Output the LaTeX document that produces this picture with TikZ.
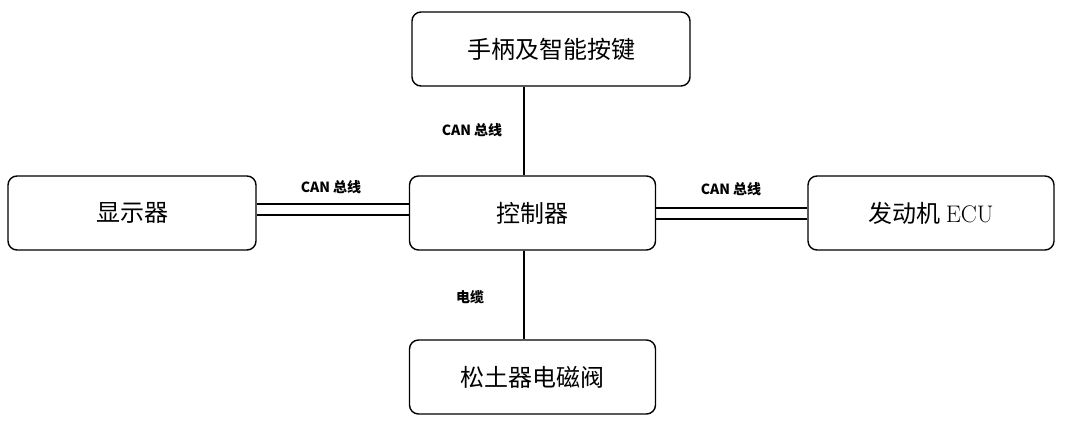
\documentclass[tikz,border=0pt]{standalone}
\usepackage{fontspec}
\newfontfamily\cjk{Noto Sans CJK SC}
\usetikzlibrary{positioning}
\tikzset{
  blk/.style={draw, line width=1.4pt, rounded corners=9pt, minimum width=246pt, minimum height=74pt, font=\fontsize{24}{28}\selectfont\cjk},
  lbl/.style={font=\fontsize{14}{16}\selectfont\cjk\bfseries},
  wire/.style={line width=1.4pt}
}
\begin{document}
\begin{tikzpicture}[x=1pt,y=-1pt]
  \useasboundingbox (0,0) rectangle (1065,430);
  % boxes
  \node[blk] (ctrl) at (532.5,213) {控制器};
  \node[blk, minimum width=278pt] (hand) at (551,49) {手柄及智能按键};
  \node[blk, minimum width=248pt] (disp) at (132,213) {显示器};
  \node[blk] (ecu) at (931,213) {发动机 {\rmfamily ECU}};
  \node[blk] (valve) at (532.5,377) {松土器电磁阀};
  % links
  \draw[wire] (hand.south -| 524,0) -- (ctrl.north -| 524,0);
  \draw[wire] (ctrl.south -| 524,0) -- (valve.north -| 524,0);
  \draw[wire] (disp.east |- 0,204) -- (ctrl.west |- 0,204);
  \draw[wire] (disp.east |- 0,215) -- (ctrl.west |- 0,215);
  \draw[wire] (ctrl.east |- 0,208) -- (ecu.west |- 0,208);
  \draw[wire] (ctrl.east |- 0,219) -- (ecu.west |- 0,219);
  % labels
  \node[lbl] (l1) at (472,130) {CAN 总线};
  \node[lbl] (l2) at (331,187) {CAN 总线};
  \node[lbl] (l3) at (731,189) {CAN 总线};
  \node[lbl] (l4) at (470,297) {电缆};
\end{tikzpicture}
\end{document}
